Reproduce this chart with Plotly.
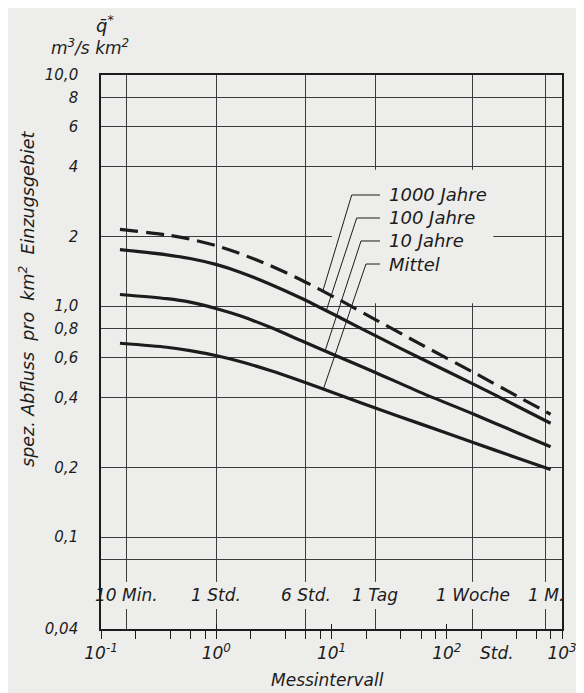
import numpy as np
import plotly.graph_objects as go

# ---------------- data ----------------
hours = [0.146, 0.372, 0.593, 1.01, 1.61, 2.94, 5.36, 11.9, 24.0, 59.1, 172, 409, 796]
q_1000 = [2.147, 2.031, 1.948, 1.821, 1.686, 1.496, 1.303, 1.059, 0.874, 0.684, 0.515, 0.407, 0.340]
q_100 = [1.753, 1.666, 1.606, 1.511, 1.402, 1.243, 1.086, 0.890, 0.744, 0.594, 0.458, 0.3685, 0.311]
q_10 = [1.122, 1.076, 1.039, 0.974, 0.907, 0.809, 0.711, 0.599, 0.516, 0.423, 0.340, 0.283, 0.246]
q_mittel = [0.690, 0.663, 0.641, 0.609, 0.575, 0.526, 0.475, 0.411, 0.362, 0.309, 0.256, 0.220, 0.196]

series_names = ["1000 Jahre", "100 Jahre", "10 Jahre", "Mittel"]
series_values = [q_1000, q_100, q_10, q_mittel]
series_dash = ["18px,8px", "solid", "solid", "solid"]
leader_target_hours = [8.4, 9.0, 8.8, 8.5]

interval_hours = [1 / 6, 1, 6, 24, 168, 720]
interval_labels = ["10 Min.", "1 Std.", "6 Std.", "1 Tag", "1 Woche", "1 M."]

x_ticks = [0.1, 1, 10, 100, 1000]
x_ticktext = ["10<sup>-1</sup>", "10<sup>0</sup>", "10<sup>1</sup>", "10<sup>2</sup>", "10<sup>3</sup>"]
x_minor = [m * 10.0 ** e for e in range(-1, 3) for m in (2, 4, 6, 8)]

y_ticks = [10, 8, 6, 4, 2, 1, 0.8, 0.6, 0.4, 0.2, 0.1, 0.08, 0.04]
y_ticktext = ["10,0", "8", "6", "4", "2", "1,0", "0,8", "0,6", "0,4", "0,2", "0,1", "", "0,04"]

X_RANGE = [-1, 3]
Y_RANGE = [float(np.log10(0.04)), 1]

BG = "#ededeb"
INK = "#1c1c1c"
GRID = "#3c3c3c"
FONT = "DejaVu Sans"


def fx(h):
    return (np.log10(h) - X_RANGE[0]) / (X_RANGE[1] - X_RANGE[0])


def fy(q):
    return (np.log10(q) - Y_RANGE[0]) / (Y_RANGE[1] - Y_RANGE[0])


def hx(f):
    # axis fraction -> data value (hours)
    return float(10 ** (X_RANGE[0] + f * (X_RANGE[1] - X_RANGE[0])))


def qy(f):
    # axis fraction -> data value (q)
    return float(10 ** (Y_RANGE[0] + f * (Y_RANGE[1] - Y_RANGE[0])))


def q_at(series, h):
    return 10 ** np.interp(np.log10(h), np.log10(hours), np.log10(series))


fig = go.Figure()

for name, vals, dash in zip(series_names, series_values, series_dash):
    fig.add_trace(go.Scatter(
        x=hours, y=vals, name=name, mode="lines",
        line=dict(color=INK, width=3.2, dash=dash, shape="spline", smoothing=0.7),
        showlegend=False, hoverinfo="skip"))

# helper traces for the overlay axes (vertical grid and upward decade ticks)
fig.add_trace(go.Scatter(x=[1], y=[1], xaxis="x2", mode="markers",
                         marker=dict(opacity=0), showlegend=False, hoverinfo="skip"))
fig.add_trace(go.Scatter(x=[1], y=[1], xaxis="x3", mode="markers",
                         marker=dict(opacity=0), showlegend=False, hoverinfo="skip"))

shapes = []
# blank area behind the labels of the curves (hides the grid there)
shapes.append(dict(type="rect", xref="x", yref="y",
                   x0=hx(0.501), x1=hx(0.851), y0=qy(0.588), y1=qy(0.829),
                   fillcolor=BG, line=dict(width=0), layer="between"))
# gaps in the vertical grid lines around the interval labels
for h in interval_hours:
    shapes.append(dict(type="rect", xref="x", yref="y",
                       x0=hx(fx(h) - 0.008), x1=hx(fx(h) + 0.008), y0=qy(0.036), y1=qy(0.085),
                       fillcolor=BG, line=dict(width=0), layer="between"))

annotations = []
# leader lines + labels
knee_x = [0.5438, 0.5547, 0.5640, 0.5748]
knee_y = [0.7834, 0.7419, 0.7004, 0.6588]
for name, vals, th, kx, ky in zip(series_names, series_values, leader_target_hours, knee_x, knee_y):
    tx, ty = fx(th), fy(q_at(vals, th))
    shapes.append(dict(type="line", xref="paper", yref="paper",
                       x0=tx, y0=ty, x1=kx, y1=ky, line=dict(color=INK, width=1)))
    shapes.append(dict(type="line", xref="paper", yref="paper",
                       x0=kx, y0=ky, x1=0.6052, y1=ky, line=dict(color=INK, width=1)))
    annotations.append(dict(xref="paper", yref="paper", x=0.621, y=ky,
                            text=name, showarrow=False, xanchor="left", yanchor="middle",
                            font=dict(family=FONT, size=18, color=INK, style="italic")))

for h, lab in zip(interval_hours, interval_labels):
    annotations.append(dict(xref="x", yref="paper", x=float(np.log10(h)), y=0.0605,
                            text=lab, showarrow=False, xanchor="center", yanchor="middle",
                            font=dict(family=FONT, size=17, color=INK, style="italic")))

annotations += [
    dict(xref="paper", yref="paper", x=-0.1605, y=0.5957, textangle=-90,
         text="spez. Abfluss&nbsp;&nbsp;pro&nbsp;&nbsp;km<sup>2</sup>&nbsp;&nbsp;Einzugsgebiet",
         showarrow=False, xanchor="center", yanchor="middle",
         font=dict(family=FONT, size=17.5, color=INK, style="italic")),
    dict(xref="paper", yref="paper", x=-0.024, y=1.0505,
         text="m<sup>3</sup>/s km<sup>2</sup>", showarrow=False,
         xanchor="center", yanchor="middle",
         font=dict(family=FONT, size=17, color=INK, style="italic")),
    dict(xref="paper", yref="paper", x=0.008, y=1.092,
         text="q\u0304<sup>*</sup>", showarrow=False,
         xanchor="center", yanchor="middle",
         font=dict(family=FONT, size=18, color=INK, style="italic")),
    dict(xref="paper", yref="paper", x=0.4924, y=-0.092,
         text="Messintervall", showarrow=False, xanchor="center", yanchor="middle",
         font=dict(family=FONT, size=17, color=INK, style="italic")),
    dict(xref="paper", yref="paper", x=0.859, y=-0.0433,
         text="Std.", showarrow=False, xanchor="center", yanchor="middle",
         font=dict(family=FONT, size=17, color=INK, style="italic")),
]

# the page adds an 8 px body margin, so the figure is 8 px smaller and shifted
fig.update_layout(
    width=576, height=685,
    margin=dict(l=93, r=22, t=67, b=64, autoexpand=False),
    paper_bgcolor=BG, plot_bgcolor=BG,
    showlegend=False,
    shapes=shapes, annotations=annotations,
    xaxis=dict(type="log", range=X_RANGE, tickmode="array", tickvals=x_ticks, ticktext=x_ticktext,
               ticks="outside", ticklen=8, tickwidth=1.2, tickcolor=INK,
               showgrid=False, zeroline=False,
               showline=True, linecolor=INK, linewidth=1.6, mirror=True,
               tickfont=dict(family=FONT, size=17, color=INK, style="italic"),
               minor=dict(tickmode="array", tickvals=x_minor, ticks="outside", ticklen=8,
                          tickwidth=1.1, tickcolor=INK, showgrid=False)),
    xaxis2=dict(type="log", range=X_RANGE, overlaying="x", anchor="y", side="bottom",
                tickmode="array", tickvals=interval_hours, showticklabels=False, ticks="",
                showgrid=True, gridcolor=GRID, gridwidth=1, showline=False, zeroline=False),
    xaxis3=dict(type="log", range=X_RANGE, overlaying="x", anchor="y", side="bottom",
                tickmode="array", tickvals=x_ticks, showticklabels=False, ticks="inside",
                ticklen=5, tickwidth=1.2, tickcolor=INK,
                showgrid=False, showline=False, zeroline=False),
    yaxis=dict(type="log", range=Y_RANGE, tickmode="array", tickvals=y_ticks, ticktext=y_ticktext,
               ticks="", ticklabelstandoff=18,
               showgrid=True, gridcolor=GRID, gridwidth=1, zeroline=False,
               showline=True, linecolor=INK, linewidth=1.6, mirror=True,
               tickfont=dict(family=FONT, size=15, color=INK, style="italic")),
)

fig.write_html("out.html")
